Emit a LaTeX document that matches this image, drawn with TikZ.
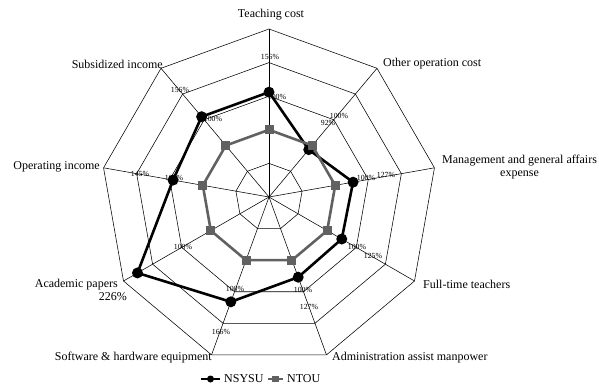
\documentclass[tikz,border=0pt]{standalone}
\usepackage{fontspec}
\setmainfont{Liberation Serif}
\begin{document}
\begin{tikzpicture}[x=1pt,y=1pt,
  grid/.style={draw=black, line width=0.55pt},
  axlab/.style={font=\fontsize{12}{13.5}\selectfont, inner sep=0pt},
  vlab/.style={font=\fontsize{7.8}{8}\selectfont, inner sep=0pt},
  nsysuline/.style={line width=2.6pt, black, line join=round},
  ntouline/.style={line width=2.6pt, black!62, line join=round},
  nsysudot/.style={circle, fill=black, inner sep=0pt, minimum size=11pt},
  ntoudot/.style={rectangle, fill=black!62, inner sep=0pt, minimum size=9pt},
  legdot/.style={circle, fill=black, inner sep=0pt, minimum size=7pt},
  legsq/.style={rectangle, fill=black!62, inner sep=0pt, minimum size=6.5pt}]
\useasboundingbox (0,0) rectangle (599,-388);
\coordinate (c) at (269,-197);
\begin{scope}[shift={(c)}]
  % rings
  \foreach \k in {1,...,5} {
    \draw[grid] (90:{\k*33.6}) \foreach \i in {1,...,8}{ -- ({90-\i*40}:{\k*33.6})} -- cycle;
  }
  % axes
  \foreach \i in {0,...,8} {
    \coordinate (o\i) at ({90-\i*40}:168);
    \draw[grid] (0,0) -- (o\i);
  }
  % data coordinates
  \foreach \v [count=\j from 0] in {1.56,0.92,1.27,1.25,1.27,1.66,2.26,1.45,1.56} {
    \coordinate (s\j) at ({90-\j*40}:{\v*67.2});
  }
  \foreach \j in {0,...,8} {
    \coordinate (t\j) at ({90-\j*40}:67.2);
  }
\end{scope}

% value labels (under the markers)
\node[vlab] (l0a) at (270,-57) {156\%};
\node[vlab] (l0b) at (277,-97) {100\%};
\node[vlab] (l1a) at (328,-123) {92\%};
\node[vlab] (l1b) at (339,-116) {100\%};
\node[vlab] (l2a) at (366,-178) {100\%};
\node[vlab] (l2b) at (386,-175) {127\%};
\node[vlab] (l3a) at (357,-247) {100\%};
\node[vlab] (l3b) at (373,-256) {125\%};
\node[vlab] (l4a) at (303,-290) {100\%};
\node[vlab] (l4b) at (309,-307) {127\%};
\node[vlab] (l5a) at (235,-289) {100\%};
\node[vlab] (l5b) at (221,-332) {166\%};
\node[vlab] (l6a) at (183,-247) {100\%};
\node[vlab] (l7a) at (140,-174) {145\%};
\node[vlab] (l7b) at (174,-178) {100\%};
\node[vlab] (l8a) at (180,-90) {156\%};
\node[vlab] (l8b) at (213,-119) {100\%};

% series
\draw[nsysuline] (s0) -- (s1) -- (s2) -- (s3) -- (s4) -- (s5) -- (s6) -- (s7) -- (s8) -- cycle;
\foreach \j in {0,...,8} { \node[nsysudot] (ms\j) at (s\j) {}; }
\draw[ntouline] (t0) -- (t1) -- (t2) -- (t3) -- (t4) -- (t5) -- (t6) -- (t7) -- (t8) -- cycle;
\foreach \j in {0,...,8} { \node[ntoudot] (mt\j) at (t\j) {}; }

% axis labels
\node[axlab] (a0) at (271,-15) {Teaching cost};
\node[axlab, anchor=west] (a1) at (383,-64) {Other operation cost};
\node[axlab, anchor=west, align=center] (a2) at (442,-167) {Management and general affairs\\expense};
\node[axlab, anchor=west] (a3) at (423,-284) {Full-time teachers};
\node[axlab, anchor=west] (a4) at (332,-358) {Administration assist manpower};
\node[axlab, anchor=east] (a5) at (212,-358) {Software \& hardware equipment};
\node[axlab, anchor=east] (a6) at (118,-285) {Academic papers};
\node[axlab, anchor=east] (a6b) at (127,-297) {226\%};
\node[axlab, anchor=east] (a7) at (100,-167) {Operating income};
\node[axlab, anchor=east] (a8) at (163,-64) {Subsidized income};

% legend
\coordinate (g1a) at (201,-379);
\coordinate (g1b) at (220,-379);
\draw[line width=2pt, black] (g1a) -- (g1b);
\node[legdot] (gm1) at (210.5,-379) {};
\node[axlab, anchor=west] (gt1) at (224,-379) {NSYSU};
\coordinate (g2a) at (268,-379);
\coordinate (g2b) at (283,-379);
\draw[line width=2pt, black!62] (g2a) -- (g2b);
\node[legsq] (gm2) at (275.5,-379) {};
\node[axlab, anchor=west] (gt2) at (287,-379) {NTOU};
\end{tikzpicture}
\end{document}
